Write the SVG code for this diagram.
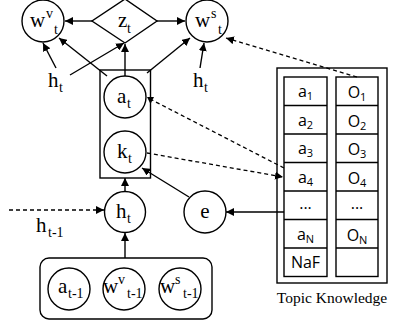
<svg xmlns="http://www.w3.org/2000/svg" width="395" height="325" viewBox="0 0 395 325">
<style>
.n{fill:#fff;stroke:#000;stroke-width:1.4}
.c{fill:none;stroke:#000;stroke-width:1.4}
.d{fill:none;stroke:#000;stroke-width:1.3;stroke-dasharray:4 3}
.t{font-family:"Liberation Serif",serif;font-size:21px;fill:#000}
.s{font-family:"Liberation Serif",serif;font-size:14px;fill:#000}
.k{font-family:"Open Sans","DejaVu Sans",sans-serif;font-size:16px;fill:#000;text-anchor:middle}
.ks{font-size:11px}
</style>
<defs>
<marker id="ah" viewBox="0 0 10 10" refX="10" refY="5" markerWidth="8" markerHeight="8" markerUnits="userSpaceOnUse" orient="auto">
<path d="M0,0 L10,5 L0,10 z" fill="#000"/>
</marker>
</defs>
<rect width="395" height="325" fill="#fff"/>
<g id="connectors">
<line class="c" x1="92" y1="21" x2="65" y2="21" marker-end="url(#ah)"/>
<line class="c" x1="157" y1="21" x2="185" y2="21" marker-end="url(#ah)"/>
<line class="c" x1="56" y1="68" x2="43" y2="43" marker-end="url(#ah)"/>
<line class="c" x1="70" y1="75" x2="124" y2="43" marker-end="url(#ah)"/>
<line class="c" x1="107" y1="76" x2="59" y2="38" marker-end="url(#ah)"/>
<line class="c" x1="125" y1="76" x2="125" y2="44" marker-end="url(#ah)"/>
<line class="c" x1="147" y1="73" x2="190" y2="38" marker-end="url(#ah)"/>
<line class="c" x1="200" y1="68" x2="204" y2="43" marker-end="url(#ah)"/>
<line class="d" x1="357" y1="77" x2="226" y2="38" marker-end="url(#ah)"/>
<line class="d" x1="284" y1="168" x2="152" y2="100"/>
<polygon points="147,97 154,97 150.5,104" fill="#000"/>
<line class="d" x1="147" y1="153" x2="283" y2="177" marker-end="url(#ah)"/>
<line class="c" x1="284" y1="212" x2="226" y2="212" marker-end="url(#ah)"/>
<line class="c" x1="189" y1="197" x2="142" y2="168" marker-end="url(#ah)"/>
<line class="c" x1="125" y1="192" x2="125" y2="178" marker-end="url(#ah)"/>
<line class="c" x1="125" y1="258" x2="125" y2="233" marker-end="url(#ah)"/>
<line class="d" x1="9" y1="210" x2="104" y2="210" marker-end="url(#ah)"/>
</g>
<g id="wv_t">
<circle class="n" cx="43" cy="21" r="21"/>
<text class="t" x="30" y="27">w</text><text class="s" x="46" y="18">v</text><text class="s" x="54" y="34">t</text>
</g>
<g id="z_t">
<polygon class="n" points="125,-1 157,21 125,43 92,21"/>
<text class="t" x="118" y="27">z</text><text class="s" x="127" y="33">t</text>
</g>
<g id="ws_t">
<circle class="n" cx="207" cy="21" r="21"/>
<text class="t" x="195" y="27">w</text><text class="s" x="211" y="18">s</text><text class="s" x="218" y="34">t</text>
</g>
<g id="h_t_left">
<text class="t" x="48" y="87">h</text><text class="s" x="59" y="92">t</text>
</g>
<g id="h_t_right">
<text class="t" x="193" y="87">h</text><text class="s" x="204" y="92">t</text>
</g>
<g id="ak_box">
<rect class="c" x="100" y="70" width="50.5" height="108"/>
</g>
<g id="a_t">
<circle class="n" cx="125" cy="97" r="21"/>
<text class="t" x="117" y="103">a</text><text class="s" x="127" y="108">t</text>
</g>
<g id="k_t">
<circle class="n" cx="125" cy="152" r="21"/>
<text class="t" x="117" y="158">k</text><text class="s" x="128" y="163">t</text>
</g>
<g id="h_t">
<circle class="n" cx="125" cy="212" r="20.5"/>
<text class="t" x="116" y="218">h</text><text class="s" x="127" y="223">t</text>
</g>
<g id="e">
<circle class="n" cx="205" cy="212" r="21"/>
<text class="t" x="205" y="218" text-anchor="middle">e</text>
</g>
<g id="h_t-1">
<text class="t" x="36" y="232">h</text><text class="s" x="48" y="237">t-1</text>
</g>
<g id="prev">
<rect class="c" x="40" y="258" width="172" height="61" rx="9"/>
<circle class="n" cx="69" cy="289" r="21"/>
<text class="t" x="58" y="293">a</text><text class="s" x="68" y="298">t-1</text>
<circle class="n" cx="124" cy="289" r="21"/>
<text class="t" x="103" y="293">w</text><text class="s" x="118" y="284">v</text><text class="s" x="127" y="298">t-1</text>
<circle class="n" cx="180" cy="289" r="21"/>
<text class="t" x="160" y="293">w</text><text class="s" x="175" y="284">s</text><text class="s" x="183" y="298">t-1</text>
</g>
<g id="topic_knowledge">
<rect class="c" x="277" y="68" width="110" height="215"/>
<rect class="c" x="284" y="77" width="43" height="199.5"/>
<rect class="c" x="336" y="77" width="42" height="199.5"/>
<path class="c" d="M284,105.5H327M284,134H327M284,162.5H327M284,191H327M284,219.5H327M284,248H327M336,105.5H378M336,134H378M336,162.5H378M336,191H378M336,219.5H378M336,248H378"/>
<text class="k" x="305.5" y="97">a<tspan class="ks" dy="3">1</tspan></text>
<text class="k" x="305.5" y="125.5">a<tspan class="ks" dy="3">2</tspan></text>
<text class="k" x="305.5" y="154">a<tspan class="ks" dy="3">3</tspan></text>
<text class="k" x="305.5" y="182.5">a<tspan class="ks" dy="3">4</tspan></text>
<text class="k" x="305.5" y="209">...</text>
<text class="k" x="305.5" y="239.5">a<tspan class="ks" dy="3">N</tspan></text>
<text class="k" x="305.5" y="268">NaF</text>
<text class="k" x="357" y="98">O<tspan class="ks" dy="3">1</tspan></text>
<text class="k" x="357" y="126.5">O<tspan class="ks" dy="3">2</tspan></text>
<text class="k" x="357" y="155">O<tspan class="ks" dy="3">3</tspan></text>
<text class="k" x="357" y="183.5">O<tspan class="ks" dy="3">4</tspan></text>
<text class="k" x="357" y="209">...</text>
<text class="k" x="357" y="240.5">O<tspan class="ks" dy="3">N</tspan></text>
<text x="332" y="303" text-anchor="middle" style="font-family:'Liberation Serif',serif;font-size:15.5px">Topic Knowledge</text>
</g>
</svg>
